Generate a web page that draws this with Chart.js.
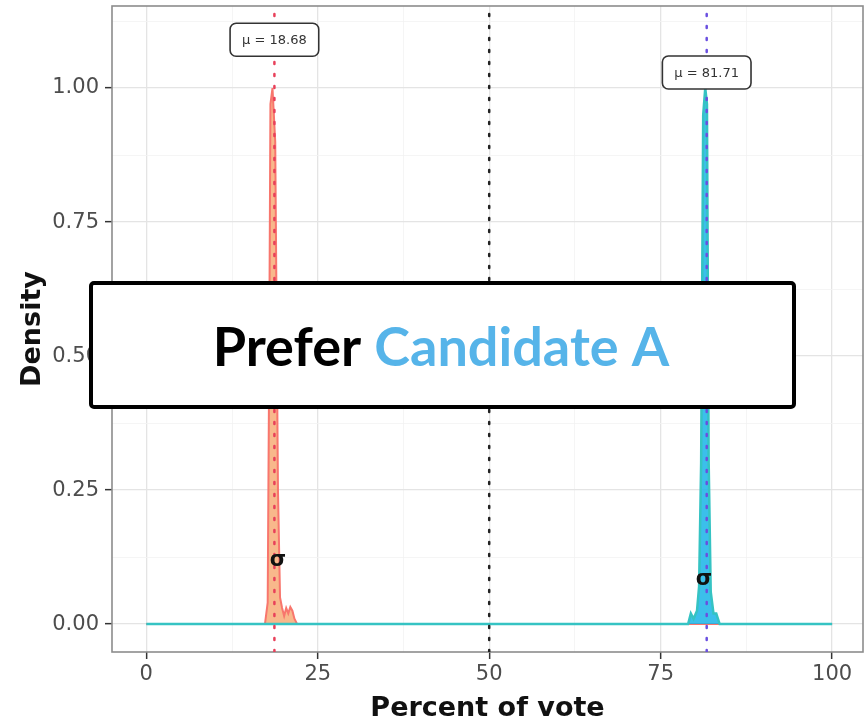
<!DOCTYPE html>
<html>
<head>
<meta charset="utf-8">
<script src="https://cdn.jsdelivr.net/npm/chart.js@4"></script>
<style>
  html, body { margin: 0; padding: 0; background: #fff; }
  #wrap { width: 865px; height: 725px; }
</style>
</head>
<body>
<div id="wrap"><canvas id="myChart" width="865" height="725"></canvas></div>
<script>
// data
const red_x = [0, 17.3, 17.7, 17.9, 18.1, 18.4, 18.8, 19.2, 19.5, 19.8, 20.1, 20.4, 20.7, 21.0, 21.3, 21.6, 22.0, 100];
const red_y = [0, 0, 0.04, 0.45, 0.97, 1.0, 0.9, 0.25, 0.05, 0.03, 0.015, 0.03, 0.02, 0.032, 0.025, 0.01, 0, 0];
const blue_x = [0, 79.0, 79.4, 79.8, 80.3, 80.6, 80.9, 81.2, 81.5, 81.75, 82.0, 82.3, 82.7, 83.1, 83.6, 100];
const blue_y = [0, 0, 0.02, 0.01, 0.025, 0.07, 0.3, 0.95, 1.0, 0.97, 0.3, 0.06, 0.02, 0.02, 0, 0];
const vline_x = [18.68, 50, 81.71];
const vline_colors = ['#e8405a', '#222222', '#6a4fe0'];
const mu_x = [18.68, 81.71];
const mu_y = [1.09, 1.029];
const mu_text = ['\u03bc = 18.68', '\u03bc = 81.71'];
const sigma_x = [19.2, 81.3];
const sigma_y = [0.118, 0.083];
const x_ticks = [0, 12.5, 25, 37.5, 50, 62.5, 75, 87.5, 100];
const y_ticks = [0, 0.125, 0.25, 0.375, 0.5, 0.625, 0.75, 0.875, 1.0, 1.125];
const x_min = -5, x_max = 104.5;
const y_min = -0.052, y_max = 1.153;

const pts = (xs, ys) => xs.map((x, i) => ({x: x, y: ys[i]}));
const isMajorX = v => Math.abs(v % 25) < 1e-9;
const isMajorY = v => Math.abs((v * 4) - Math.round(v * 4)) < 1e-9;

const vline_sets = vline_x.map((x, i) => ({
    data: [{x: x, y: y_min}, {x: x, y: y_max}],
    borderColor: vline_colors[i],
    borderWidth: 2.5,
    borderDash: [2, 10],
    borderCapStyle: 'round',
    pointRadius: 0,
    fill: false,
    order: 0
}));

const annotate = {
    id: 'annotate',
    beforeDatasetsDraw(chart) {
        const a = chart.chartArea, c = chart.ctx;
        c.save();
        c.strokeStyle = '#8c8c8c';
        c.lineWidth = 1.6;
        c.strokeRect(a.left, a.top, a.right - a.left, a.bottom - a.top);
        c.restore();
    },
    afterDraw(chart) {
        const c = chart.ctx, xs = chart.scales.x, ys = chart.scales.y;
        c.save();
        // mu labels
        c.font = '13px "DejaVu Sans"';
        c.textAlign = 'center';
        c.textBaseline = 'middle';
        mu_x.forEach((v, i) => {
            const px = xs.getPixelForValue(v), py = ys.getPixelForValue(mu_y[i]);
            const w = c.measureText(mu_text[i]).width + 24, h = 33;
            c.beginPath();
            c.roundRect(px - w / 2, py - h / 2, w, h, 6);
            c.fillStyle = '#fff';
            c.fill();
            c.lineWidth = 1.6;
            c.strokeStyle = '#333';
            c.stroke();
            c.fillStyle = '#333';
            c.fillText(mu_text[i], px, py + 1);
        });
        // sigma marks
        c.font = 'bold 21px "DejaVu Sans"';
        c.fillStyle = '#111';
        sigma_x.forEach((v, i) => {
            c.fillText('\u03c3', xs.getPixelForValue(v), ys.getPixelForValue(sigma_y[i]));
        });
        // overlay banner
        c.beginPath();
        c.roundRect(91, 283, 703, 124, 3);
        c.fillStyle = '#fff';
        c.fill();
        c.lineWidth = 4;
        c.strokeStyle = '#000';
        c.stroke();
        const t1 = 'Prefer ', t2 = 'Candidate A';
        let size = 62;
        do {
            size -= 1;
            c.font = 'bold ' + size + 'px Lato';
        } while (c.measureText(t1 + t2).width > 458 && size > 20);
        const w1 = c.measureText(t1).width, wAll = c.measureText(t1 + t2).width;
        const sx = 441 - wAll / 2;
        c.textAlign = 'left';
        c.textBaseline = 'alphabetic';
        c.fillStyle = '#000';
        c.fillText(t1, sx, 366);
        c.fillStyle = '#56b4e9';
        c.fillText(t2, sx + w1, 366);
        c.restore();
    }
};

const ctx = document.getElementById('myChart');
new Chart(ctx, {
    type: 'line',
    data: {
        datasets: [
            ...vline_sets,
            {
                data: pts(blue_x, blue_y),
                borderColor: '#35c3c3',
                backgroundColor: 'rgba(25,180,232,0.85)',
                borderWidth: 2.5,
                fill: 'origin',
                pointRadius: 0,
                tension: 0,
                order: 1
            },
            {
                data: pts(red_x, red_y),
                borderColor: '#f8766d',
                backgroundColor: 'rgba(245,160,100,0.75)',
                borderWidth: 2,
                fill: 'origin',
                pointRadius: 0,
                tension: 0,
                order: 2
            }
        ]
    },
    options: {
        responsive: false,
        animation: false,
        layout: { padding: { top: 6, right: 2, left: 0, bottom: 0 } },
        plugins: { legend: { display: false }, tooltip: { enabled: false } },
        scales: {
            x: {
                type: 'linear',
                min: x_min,
                max: x_max,
                afterBuildTicks: s => { s.ticks = x_ticks.map(v => ({value: v})); },
                afterFit: s => { s.height = 73; s.paddingLeft = 0; s.paddingRight = 0; },
                border: { display: false },
                grid: {
                    color: c => isMajorX(c.tick.value) ? '#e4e4e4' : '#f2f2f2',
                    lineWidth: c => isMajorX(c.tick.value) ? 1.3 : 0.8,
                    tickColor: c => isMajorX(c.tick.value) ? '#333' : 'rgba(0,0,0,0)',
                    tickLength: 7,
                    tickWidth: 1.5
                },
                ticks: {
                    autoSkip: false,
                    maxRotation: 0,
                    padding: 3,
                    color: '#4d4d4d',
                    font: { family: 'DejaVu Sans', size: 21 },
                    callback: v => isMajorX(v) ? String(v) : ''
                },
                title: {
                    display: true,
                    text: 'Percent of vote',
                    color: '#111',
                    font: { family: 'DejaVu Sans', size: 27, weight: 'bold' },
                    padding: { top: 0, bottom: 0 }
                }
            },
            y: {
                type: 'linear',
                min: y_min,
                max: y_max,
                afterBuildTicks: s => { s.ticks = y_ticks.map(v => ({value: v})); },
                afterFit: s => { s.width = 112; s.paddingTop = 0; s.paddingBottom = 0; },
                border: { display: false },
                grid: {
                    color: c => isMajorY(c.tick.value) ? '#e4e4e4' : '#f2f2f2',
                    lineWidth: c => isMajorY(c.tick.value) ? 1.3 : 0.8,
                    tickColor: c => isMajorY(c.tick.value) ? '#333' : 'rgba(0,0,0,0)',
                    tickLength: 7,
                    tickWidth: 1.5
                },
                ticks: {
                    autoSkip: false,
                    padding: 6,
                    color: '#4d4d4d',
                    font: { family: 'DejaVu Sans', size: 21 },
                    callback: v => isMajorY(v) ? v.toFixed(2) : ''
                },
                title: {
                    display: true,
                    text: 'Density',
                    color: '#111',
                    font: { family: 'DejaVu Sans', size: 27, weight: 'bold' },
                    padding: { top: 17, bottom: 0 }
                }
            }
        }
    },
    plugins: [annotate]
});
</script>
</body>
</html>
